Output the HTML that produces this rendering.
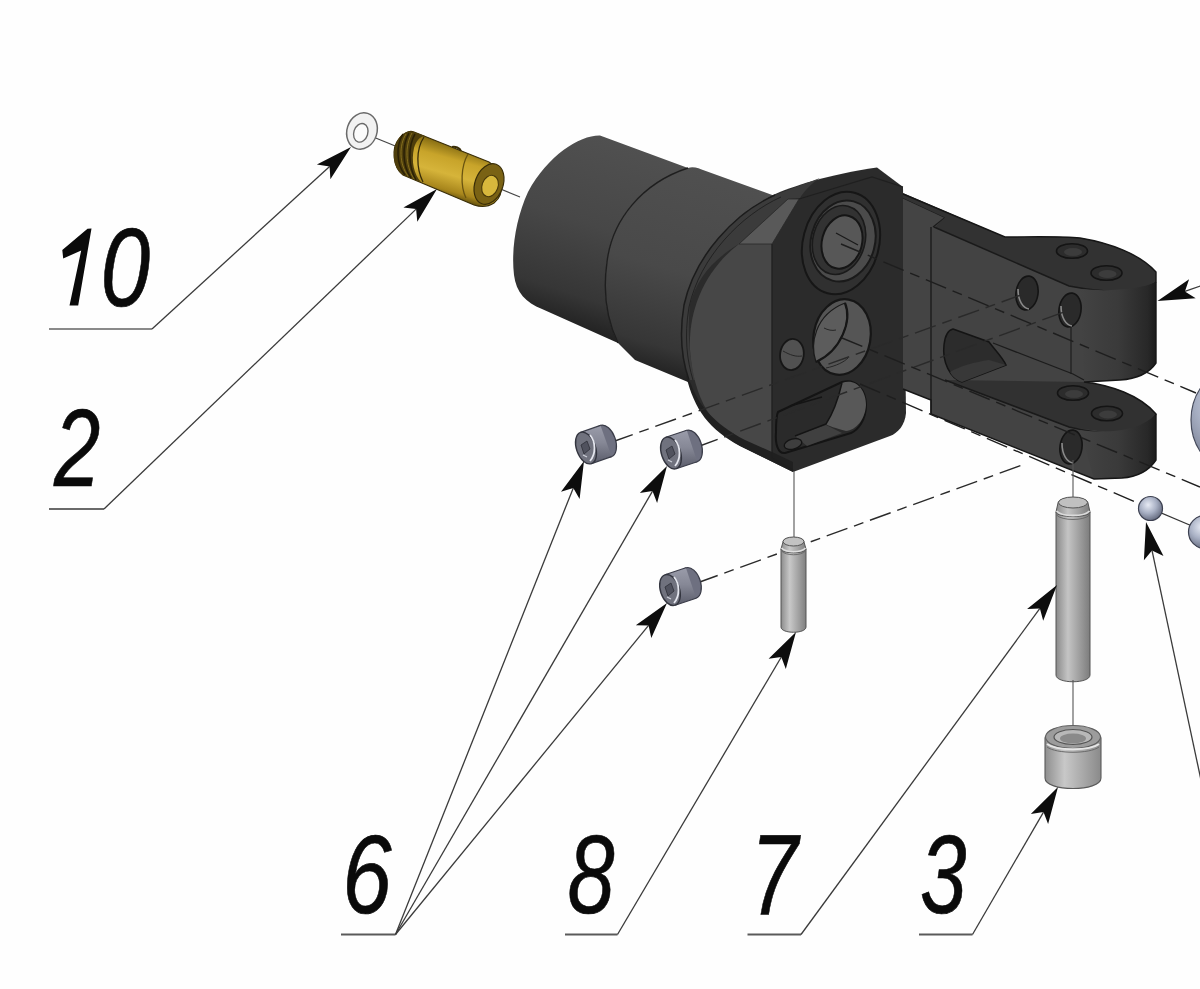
<!DOCTYPE html>
<html><head><meta charset="utf-8"><style>
html,body{margin:0;padding:0;background:#fff;overflow:hidden;}
svg{display:block;font-family:"Liberation Sans",sans-serif;}
</style></head><body>
<svg width="1200" height="989" viewBox="0 0 1200 989"><rect width="1200" height="989" fill="#fefefe"/>
<defs>
<linearGradient id="gCyl1" gradientUnits="userSpaceOnUse" x1="600" y1="136" x2="540" y2="320">
 <stop offset="0" stop-color="#505050"/><stop offset="0.45" stop-color="#474747"/><stop offset="0.82" stop-color="#363636"/><stop offset="1" stop-color="#202020"/></linearGradient>
<linearGradient id="gCyl2" gradientUnits="userSpaceOnUse" x1="720" y1="170" x2="660" y2="380">
 <stop offset="0" stop-color="#505050"/><stop offset="0.5" stop-color="#494949"/><stop offset="0.85" stop-color="#363636"/><stop offset="1" stop-color="#1e1e1e"/></linearGradient>
<linearGradient id="gBrass" gradientUnits="userSpaceOnUse" x1="432" y1="140" x2="418" y2="190">
 <stop offset="0" stop-color="#8a7014"/><stop offset="0.25" stop-color="#c8a42a"/><stop offset="0.55" stop-color="#d6b43a"/><stop offset="0.85" stop-color="#a8861c"/><stop offset="1" stop-color="#5e4c0c"/></linearGradient>
<linearGradient id="gLobe" gradientUnits="userSpaceOnUse" x1="1080" y1="0" x2="1157" y2="0">
 <stop offset="0" stop-color="#434343"/><stop offset="0.5" stop-color="#3a3a3a"/><stop offset="0.88" stop-color="#282828"/><stop offset="1" stop-color="#1a1a1a"/></linearGradient>
<linearGradient id="gPin" gradientUnits="userSpaceOnUse" x1="0" y1="0" x2="1" y2="0" gradientTransform="">
 <stop offset="0" stop-color="#8a8a8a"/><stop offset="0.4" stop-color="#c4c4c4"/><stop offset="1" stop-color="#7a7a7a"/></linearGradient>
<linearGradient id="gPin8" gradientUnits="userSpaceOnUse" x1="781" y1="0" x2="806" y2="0">
 <stop offset="0" stop-color="#8c8c8c"/><stop offset="0.35" stop-color="#c8c8c8"/><stop offset="1" stop-color="#808080"/></linearGradient>
<linearGradient id="gPin7" gradientUnits="userSpaceOnUse" x1="1056" y1="0" x2="1090" y2="0">
 <stop offset="0" stop-color="#8a8a8a"/><stop offset="0.35" stop-color="#c4c4c4"/><stop offset="1" stop-color="#7c7c7c"/></linearGradient>
<linearGradient id="gBush3" gradientUnits="userSpaceOnUse" x1="1045" y1="0" x2="1101" y2="0">
 <stop offset="0" stop-color="#8e8e8e"/><stop offset="0.35" stop-color="#c8c8c8"/><stop offset="1" stop-color="#8a8a8a"/></linearGradient>
<radialGradient id="gBall" cx="0.4" cy="0.35" r="0.7">
 <stop offset="0" stop-color="#e6eaf4"/><stop offset="0.5" stop-color="#a8b0c4"/><stop offset="1" stop-color="#5e6478"/></radialGradient>
<linearGradient id="gScrew" gradientUnits="objectBoundingBox" x1="0" y1="0" x2="0" y2="1">
 <stop offset="0" stop-color="#9a9caa"/><stop offset="0.45" stop-color="#868896"/><stop offset="1" stop-color="#5a5c6a"/></linearGradient>
</defs>
<line x1="361" y1="132" x2="520" y2="197" stroke="#444" stroke-width="1.1"/>
<ellipse cx="362" cy="131" rx="15" ry="18.5" transform="rotate(18 362 131)" fill="#f2f2f2" stroke="#6a6a6a" stroke-width="1.5"/>
<ellipse cx="361" cy="132.5" rx="7" ry="9.5" transform="rotate(18 360 132)" fill="#fbfbfb" stroke="#6a6a6a" stroke-width="1.4"/>
<path d="M414,132 L489,162 C503,170 506,194 494,203 C488,207 480,207 474,205 L403,175 C393,168 391,148 399,139 C404,133 409,130 414,132 Z" fill="url(#gBrass)" stroke="#3a2e08" stroke-width="1.2"/>
<path d="M414,132 C406,130 398,135 395,147 C392,159 395,169 403,175 L421,182 C414,175 411,161 414,148 C416,141 420,136 425,136 Z" fill="#4e3e0c"/>
<path d="M403,134 C396,145 396,164 405,175 M409,133 C402,145 402,165 411,178 M415,134 C408,146 408,166 416,180" fill="none" stroke="#2a2006" stroke-width="1.5"/>
<path d="M406,134 C399,145 399,164 408,176 M412,133 C405,145 405,165 414,179" fill="none" stroke="#8a7420" stroke-width="0.9"/>
<path d="M424,137 C416,149 416,168 423,182" fill="none" stroke="#3a2e08" stroke-width="1.3"/>
<path d="M468,154 C461,166 460,186 466,198" fill="none" stroke="#6a5410" stroke-width="1.3"/>
<ellipse cx="489" cy="184" rx="14" ry="21" transform="rotate(20 489 184)" fill="#7a6214" stroke="#3a2e08" stroke-width="1.2"/>
<ellipse cx="490" cy="186" rx="8" ry="11" transform="rotate(20 490 186)" fill="#d8b83c" stroke="#4a3a0a" stroke-width="1.1"/>
<path d="M452,147 C455,146 460,148 461,151" stroke="#3a2e08" stroke-width="2" fill="none"/>
<path d="M600,135.5 C580,135 548,155 528,192 C516,218 511,250 514,275 C516,292 526,303 542,309 L618,343 C606,318 603,290 607,262 C612,220 642,183 688,168 Z" fill="url(#gCyl1)"/>
<path d="M688,168 C694,166 700,169 703,170 L775,196 L700,385 L688,382 L635,360 L618,343 C604,315 603,285 607,262 C612,220 642,183 688,168 Z" fill="url(#gCyl2)"/>
<path d="M688,168 C642,183 612,220 607,262 C603,290 606,318 618,343" fill="none" stroke="#1e1e1e" stroke-width="1.4"/>
<path d="M773,195 C790,187 830,174 877,167.5 L903,187 L906,413 C905,425 898,433 890,436 L793,472 L740,446 C705,425 688,395 682,350 C678,300 700,250 745,212 Z" fill="#2b2b2b"/>
<path d="M775,195 C735,213 695,255 684,305 C679,335 682,360 689,380 L695,380 C690,360 687,335 690,305 C696,280 712,260 739,244 L788,199 L800,198 C805,190 812,183 820,178 Z" fill="#3b3b3b"/>
<path d="M775,195 C735,213 695,255 684,305 C679,335 682,360 689,380" fill="none" stroke="#1c1c1c" stroke-width="1.5"/>
<path d="M781,197 C741,215 700,257 689,307 C684,337 687,360 693,380" fill="none" stroke="#222" stroke-width="1"/>
<path d="M739,244 L772,244 L772,458 L745,446 C712,428 694,400 690,350 C688,310 705,270 739,244 Z" fill="#474747"/>
<path d="M739,244 L772,244 L799,199 L788,199 Z" fill="#595959" stroke="#2a2a2a" stroke-width="0.8"/>
<path d="M691,384 C698,404 714,424 745,440 L772,452 L793,462 L793,472 L740,446 C710,430 694,410 686,375 Z" fill="#202020"/>
<path d="M772,244 L772,458 L793,470" fill="none" stroke="#1f1f1f" stroke-width="1.3"/>
<path d="M799,199 L872,177 L903,187" fill="none" stroke="#1f1f1f" stroke-width="1.2"/>
<ellipse cx="841" cy="243" rx="38" ry="52" transform="rotate(15 841 243)" fill="#303030" stroke="#161616" stroke-width="2"/>
<ellipse cx="843" cy="241" rx="32" ry="41" transform="rotate(15 843 241)" fill="#4b4b4b" stroke="#1a1a1a" stroke-width="2"/>
<ellipse cx="839" cy="240" rx="26" ry="35" transform="rotate(15 839 240)" fill="#323232" stroke="#1a1a1a" stroke-width="1.6"/>
<ellipse cx="842" cy="242" rx="20" ry="27" transform="rotate(15 842 242)" fill="#575757" stroke="#151515" stroke-width="2"/>
<path d="M836,233 L858,245" stroke="#1a1a1a" stroke-width="1.2"/>
<ellipse cx="842" cy="337" rx="28.5" ry="38" transform="rotate(10 842 337)" fill="#555555" stroke="#161616" stroke-width="2.2"/>
<path d="M845,303 C852,320 842,350 816,362 C810,345 814,315 845,303 Z" fill="#5c5c5c" stroke="#1a1a1a" stroke-width="1.2"/>
<path d="M845,303 C852,320 842,350 816,362" fill="none" stroke="#161616" stroke-width="2.2"/>
<path d="M824,328 C828,330 832,331 836,330 M826,368 C836,366 844,362 848,358" fill="none" stroke="#262626" stroke-width="1"/>
<ellipse cx="792" cy="354.5" rx="11.8" ry="15.6" transform="rotate(8 792 354)" fill="#515151" stroke="#161616" stroke-width="1.8"/>
<path d="M783,351 C790,355 796,357 802,356" fill="none" stroke="#262626" stroke-width="1"/>
<path d="M778,412 L842,382 C856,378 866,390 866,405 C866,420 858,430 851,433 L785,453 C778,454 775,444 776,432 C776,423 776,416 778,412 Z" fill="#2a2a2a" stroke="#141414" stroke-width="2"/>
<path d="M842,383 C856,378 866,390 866,405 C865,420 856,430 846,431 C836,428 828,426 826,424 C832,415 838,400 842,383 Z" fill="#585858"/>
<path d="M795,436 L826,425 L842,433 L807,446 Z" fill="#404040"/>
<path d="M842,383 C838,400 832,415 826,424 L795,436" fill="none" stroke="#141414" stroke-width="1.4"/>
<ellipse cx="793" cy="444" rx="9" ry="5" transform="rotate(-15 793 444)" fill="#3e3e3e" stroke="#141414" stroke-width="1.3"/>
<path d="M790,406 L822,397" stroke="#141414" stroke-width="1.3"/>
<path d="M903,194 L1005,237 C1030,237 1060,236 1080,238 C1110,243 1140,254 1156,272 L1156,363 C1148,375 1134,379 1120,380 L1084,382 C1110,385 1140,395 1156,414 L1156,460 C1148,472 1136,477 1122,478 L1094,479 L931,414 L931,400 L903,389 Z" fill="#434343"/>
<path d="M903,198 L945,217.5 L933,227 L931,227 L931,400 L903,389 Z" fill="#444444"/>
<line x1="931" y1="227" x2="931" y2="414" stroke="#1c1c1c" stroke-width="1.4"/>
<path d="M903,198 L945,217.5 L933,227" fill="none" stroke="#1c1c1c" stroke-width="1.3"/>
<path d="M903,193 L1005,237 C1030,237 1060,236 1080,238 C1110,243 1140,254 1156,272 L1156,282 C1152,286 1142,289 1126,291 C1110,292 1090,290 1069,286 L935,227 L945,217.5 L903,198 Z" fill="#323232"/>
<path d="M934,227 L1069,286 C1090,290 1110,292 1126,291 C1142,289 1152,286 1156,282" fill="none" stroke="#1a1a1a" stroke-width="1.5"/>
<path d="M1080,289 C1110,292 1142,289 1156,282 L1156,363 C1148,375 1134,379 1120,380 L1084,380 Z" fill="url(#gLobe)"/>
<path d="M945,380 L1084,382 C1110,385 1140,395 1156,414 C1150,424 1135,434 1120,434 L1069,427 Z" fill="#313131"/>
<path d="M945,380 L1069,427 C1090,432 1110,434 1124,433 C1140,431 1152,424 1156,414" fill="none" stroke="#1a1a1a" stroke-width="1.5"/>
<path d="M1080,430 C1110,434 1140,431 1156,414 L1156,460 C1148,472 1136,477 1122,478 L1094,479 Z" fill="url(#gLobe)"/>
<path d="M993,343 L1073,374 L1084,380" fill="none" stroke="#1c1c1c" stroke-width="1.3"/>
<path d="M903,194 L1005,237 C1030,237 1060,236 1080,238 C1110,243 1140,254 1156,272 L1156,363 C1148,375 1134,379 1120,380 L1084,382 C1110,385 1140,395 1156,414 L1156,460 C1148,472 1136,477 1122,478 L1094,479 L931,414 L931,400 L903,389" fill="none" stroke="#161616" stroke-width="1.4"/>
<path d="M953,329 L989,342 C995,350 1003,358 1006,365 L962,382 C950,378 942,362 944,345 C945,335 949,330 953,329 Z" fill="#2c2c2c" stroke="#141414" stroke-width="1.5"/>
<path d="M950,372 C960,366 975,362 989,360 L1006,365 L962,382 C956,380 952,376 950,372 Z" fill="#383838"/>
<ellipse cx="1072" cy="251" rx="15.5" ry="7.3" fill="#2c2c2c" stroke="#141414" stroke-width="1.6"/>
<ellipse cx="1073" cy="252" rx="9" ry="4" fill="#3c3c3c"/>
<ellipse cx="1106.5" cy="273" rx="15.5" ry="7.3" fill="#2c2c2c" stroke="#141414" stroke-width="1.6"/>
<ellipse cx="1107.5" cy="274" rx="9" ry="4" fill="#3c3c3c"/>
<ellipse cx="1073" cy="393" rx="15.5" ry="7.3" fill="#2c2c2c" stroke="#141414" stroke-width="1.6"/>
<ellipse cx="1074" cy="394" rx="9" ry="4" fill="#3c3c3c"/>
<ellipse cx="1107" cy="413.5" rx="15.5" ry="7.3" fill="#2c2c2c" stroke="#141414" stroke-width="1.6"/>
<ellipse cx="1108" cy="414.5" rx="9" ry="4" fill="#3c3c3c"/>
<ellipse cx="1027" cy="293" rx="11" ry="17" transform="rotate(8 1027 293)" fill="#2a2a2a" stroke="#141414" stroke-width="1.6"/>
<path d="M1018,289 C1018,301 1023,308 1029,309" fill="none" stroke="#8a8a8a" stroke-width="1.6"/>
<ellipse cx="1070" cy="310" rx="11" ry="17" transform="rotate(8 1070 310)" fill="#2a2a2a" stroke="#141414" stroke-width="1.6"/>
<path d="M1061,306 C1061,318 1066,325 1072,326" fill="none" stroke="#8a8a8a" stroke-width="1.6"/>
<ellipse cx="1071" cy="447" rx="11" ry="17" transform="rotate(8 1071 447)" fill="#2a2a2a" stroke="#141414" stroke-width="1.6"/>
<path d="M1062,443 C1062,455 1067,462 1073,463" fill="none" stroke="#8a8a8a" stroke-width="1.6"/>
<line x1="1071" y1="327" x2="1071" y2="374" stroke="#1a1a1a" stroke-width="1.1"/>
<line x1="612" y1="442" x2="1021" y2="295" stroke="#2a2a2a" stroke-width="1.4" stroke-dasharray="22,7,10,7"/>
<line x1="697" y1="447" x2="1064" y2="312" stroke="#2a2a2a" stroke-width="1.4" stroke-dasharray="22,7,10,7"/>
<line x1="697" y1="583" x2="1025" y2="464" stroke="#2a2a2a" stroke-width="1.4" stroke-dasharray="22,7,10,7"/>
<line x1="841" y1="244" x2="1196" y2="393" stroke="#1e1e1e" stroke-width="1.4" stroke-dasharray="22,7,10,7"/>
<line x1="842" y1="338" x2="1200" y2="487" stroke="#1e1e1e" stroke-width="1.4" stroke-dasharray="22,7,10,7"/>
<line x1="860" y1="384" x2="1140" y2="504" stroke="#1e1e1e" stroke-width="1.4" stroke-dasharray="22,7,10,7"/>
<line x1="1140" y1="504" x2="1192" y2="526" stroke="#333" stroke-width="1.3"/>
<circle cx="1249" cy="420" r="58" fill="url(#gBall)" stroke="#44495a" stroke-width="1.2"/>
<circle cx="1150.5" cy="508.5" r="12" fill="url(#gBall)" stroke="#3c4050" stroke-width="1.2"/>
<circle cx="1205" cy="532" r="16.5" fill="url(#gBall)" stroke="#3c4050" stroke-width="1.2"/>
<ellipse cx="606" cy="441" rx="9.5" ry="16.5" transform="rotate(-19.3 606 441)" fill="#6e7080" stroke="#3a3c48" stroke-width="1.2"/><path d="M580.5,432.4 L600.5,425.4 L611.5,456.6 L591.5,463.6 Z" fill="url(#gScrew)"/><path d="M580.5,432.4 L600.5,425.4 M611.5,456.6 L591.5,463.6" stroke="#3a3c48" stroke-width="1.2"/><ellipse cx="586" cy="448" rx="9.5" ry="16.5" transform="rotate(-19.3 586 448)" fill="#70727e" stroke="#33353f" stroke-width="1.4"/><path d="M590,435 C596,442 596,454 590,461" fill="none" stroke="#e4e6ee" stroke-width="1.8"/><path d="M581,445 L587,441 L590,449 L584,454 Z" fill="#50525e" stroke="#2e3038" stroke-width="0.8"/><path d="M583,455 L587,457" stroke="#d0d2dc" stroke-width="1.2"/>
<ellipse cx="692" cy="446" rx="9.5" ry="16.5" transform="rotate(-18.4 692 446)" fill="#6e7080" stroke="#3a3c48" stroke-width="1.2"/><path d="M665.8,437.3 L686.8,430.3 L697.2,461.7 L676.2,468.7 Z" fill="url(#gScrew)"/><path d="M665.8,437.3 L686.8,430.3 M697.2,461.7 L676.2,468.7" stroke="#3a3c48" stroke-width="1.2"/><ellipse cx="671" cy="453" rx="9.5" ry="16.5" transform="rotate(-18.4 671 453)" fill="#70727e" stroke="#33353f" stroke-width="1.4"/><path d="M675,440 C681,447 681,459 675,466" fill="none" stroke="#e4e6ee" stroke-width="1.8"/><path d="M666,450 L672,446 L675,454 L669,459 Z" fill="#50525e" stroke="#2e3038" stroke-width="0.8"/><path d="M668,460 L672,462" stroke="#d0d2dc" stroke-width="1.2"/>
<ellipse cx="691" cy="583" rx="9.5" ry="16" transform="rotate(-18.4 691 583)" fill="#6e7080" stroke="#3a3c48" stroke-width="1.2"/><path d="M664.9,574.8 L685.9,567.8 L696.1,598.2 L675.1,605.2 Z" fill="url(#gScrew)"/><path d="M664.9,574.8 L685.9,567.8 M696.1,598.2 L675.1,605.2" stroke="#3a3c48" stroke-width="1.2"/><ellipse cx="670" cy="590" rx="9.5" ry="16" transform="rotate(-18.4 670 590)" fill="#70727e" stroke="#33353f" stroke-width="1.4"/><path d="M674,577 C680,584 680,596 674,603" fill="none" stroke="#e4e6ee" stroke-width="1.8"/><path d="M665,587 L671,583 L674,591 L668,596 Z" fill="#50525e" stroke="#2e3038" stroke-width="0.8"/><path d="M667,597 L671,599" stroke="#d0d2dc" stroke-width="1.2"/>
<line x1="794" y1="471" x2="794" y2="538" stroke="#555" stroke-width="1.1"/>
<path d="M781,549 L806,549 L806,627 C806,634 781,634 781,627 Z" fill="url(#gPin8)" stroke="#555" stroke-width="1"/>
<path d="M783,542 C783,536 804,536 804,542 L806,549 C806,554 781,554 781,549 Z" fill="url(#gPin8)" stroke="#555" stroke-width="1"/>
<ellipse cx="793.5" cy="541.5" rx="10.5" ry="4.5" fill="#c2c2c2" stroke="#555" stroke-width="1"/>
<path d="M781.5,548 C786,553 801,553 805.5,548" fill="none" stroke="#e0e0e0" stroke-width="1.6"/>
<path d="M781.5,551 C786,556 801,556 805.5,551" fill="none" stroke="#666" stroke-width="0.9"/>
<line x1="1073" y1="460" x2="1073" y2="500" stroke="#555" stroke-width="1.1"/>
<path d="M1056,512 L1090,512 L1090,675 C1090,684 1056,684 1056,675 Z" fill="url(#gPin7)" stroke="#555" stroke-width="1"/>
<path d="M1058,503 C1058,496 1088,496 1088,503 L1090,512 C1090,518 1056,518 1056,512 Z" fill="url(#gPin7)" stroke="#555" stroke-width="1"/>
<ellipse cx="1073" cy="502.5" rx="14.5" ry="5.5" fill="#c0c0c0" stroke="#555" stroke-width="1"/>
<path d="M1056.5,511 C1062,517 1084,517 1089.5,511" fill="none" stroke="#dcdcdc" stroke-width="1.8"/>
<path d="M1056.5,515 C1062,521 1084,521 1089.5,515" fill="none" stroke="#666" stroke-width="0.9"/>
<line x1="1073" y1="680" x2="1073" y2="730" stroke="#555" stroke-width="1.1"/>
<path d="M1045,738 C1045,728 1101,728 1101,738 L1101,778 C1101,792 1045,792 1045,778 Z" fill="url(#gBush3)" stroke="#5a5a5a" stroke-width="1.1"/>
<ellipse cx="1073" cy="737" rx="27.5" ry="11.5" fill="#9c9c9c" stroke="#606060" stroke-width="1.1"/>
<ellipse cx="1073" cy="737" rx="19" ry="7.5" fill="#b8b8b8" stroke="#555" stroke-width="1.2"/>
<ellipse cx="1073" cy="738.5" rx="13" ry="5" fill="#8a8a8a"/>
<path d="M1047,744 C1056,751 1090,751 1099,744" fill="none" stroke="#e6e6e6" stroke-width="2"/>
<path d="M1047,747 C1056,754 1090,754 1099,747" fill="none" stroke="#6a6a6a" stroke-width="1"/>
<path d="M91.5,228.5 L78.2,305.5 L69.5,305.5 L81.2,250.5 L63.2,258.5 L62.3,250 L87.5,228.8 Z" fill="#0a0a0a"/>
<text transform="matrix(0.8922,0,0,1.1127,100.43,306.39)" font-size="100" font-style="italic" fill="#0a0a0a" stroke="#0a0a0a" stroke-width="0.6">0</text>
<line x1="49.0" y1="329.0" x2="152.0" y2="329.0" stroke="#8a8a8a" stroke-width="2.2" />
<line x1="152.0" y1="329.0" x2="329.6" y2="166.6" stroke="#3a3a3a" stroke-width="1.3" />
<path d="M351.0,147.0 L330.4,179.3 L329.6,166.6 L316.9,164.6 Z" fill="#0d0d0d"/>
<text transform="matrix(0.8333,0,0,1.1000,54.00,486.00)" font-size="100" font-style="italic" fill="#0a0a0a" stroke="#0a0a0a" stroke-width="0.6">2</text>
<line x1="49.0" y1="509.0" x2="104.0" y2="509.0" stroke="#6a6a6a" stroke-width="2" />
<line x1="104.0" y1="509.0" x2="416.1" y2="209.1" stroke="#3a3a3a" stroke-width="1.3" />
<path d="M437.0,189.0 L417.3,221.8 L416.1,209.1 L403.4,207.4 Z" fill="#0d0d0d"/>
<text transform="matrix(0.8878,0,0,1.1127,342.17,912.89)" font-size="100" font-style="italic" fill="#0a0a0a" stroke="#0a0a0a" stroke-width="0.6">6</text>
<line x1="341.0" y1="934.5" x2="395.5" y2="934.5" stroke="#5a5a5a" stroke-width="2" />
<line x1="395.5" y1="934.5" x2="573.3" y2="487.9" stroke="#3a3a3a" stroke-width="1.3" />
<path d="M584.0,461.0 L579.6,499.1 L573.3,487.9 L561.0,491.7 Z" fill="#0d0d0d"/>
<line x1="395.5" y1="934.5" x2="652.5" y2="491.1" stroke="#3a3a3a" stroke-width="1.3" />
<path d="M667.0,466.0 L657.1,503.0 L652.5,491.1 L639.8,493.0 Z" fill="#0d0d0d"/>
<line x1="395.5" y1="934.5" x2="648.6" y2="625.4" stroke="#3a3a3a" stroke-width="1.3" />
<path d="M667.0,603.0 L651.3,638.0 L648.6,625.4 L635.8,625.3 Z" fill="#0d0d0d"/>
<text transform="matrix(0.8462,0,0,1.1056,567.46,912.89)" font-size="100" font-style="italic" fill="#0a0a0a" stroke="#0a0a0a" stroke-width="0.6">8</text>
<line x1="565.0" y1="934.5" x2="617.5" y2="934.5" stroke="#5a5a5a" stroke-width="2" />
<line x1="617.5" y1="934.5" x2="781.3" y2="657.0" stroke="#3a3a3a" stroke-width="1.3" />
<path d="M796.0,632.0 L785.8,668.9 L781.3,657.0 L768.6,658.8 Z" fill="#0d0d0d"/>
<text transform="matrix(0.8542,0,0,1.1471,750.46,915.15)" font-size="100" font-style="italic" fill="#0a0a0a" stroke="#0a0a0a" stroke-width="0.6">7</text>
<line x1="747.5" y1="934.5" x2="801.0" y2="934.5" stroke="#5a5a5a" stroke-width="2" />
<line x1="801.0" y1="934.5" x2="1039.9" y2="608.4" stroke="#3a3a3a" stroke-width="1.3" />
<path d="M1057.0,585.0 L1043.2,620.8 L1039.9,608.4 L1027.1,608.9 Z" fill="#0d0d0d"/>
<text transform="matrix(0.8365,0,0,1.1056,919.99,912.89)" font-size="100" font-style="italic" fill="#0a0a0a" stroke="#0a0a0a" stroke-width="0.6">3</text>
<line x1="919.0" y1="934.5" x2="972.5" y2="934.5" stroke="#5a5a5a" stroke-width="2" />
<line x1="972.5" y1="934.5" x2="1043.5" y2="812.1" stroke="#3a3a3a" stroke-width="1.3" />
<path d="M1058.0,787.0 L1048.1,824.0 L1043.5,812.1 L1030.8,814.0 Z" fill="#0d0d0d"/>
<line x1="1211.0" y1="827.0" x2="1152.0" y2="550.4" stroke="#3a3a3a" stroke-width="1.3" />
<path d="M1146.0,522.0 L1163.5,556.1 L1152.0,550.4 L1143.9,560.3 Z" fill="#0d0d0d"/>
<line x1="1240.0" y1="272.0" x2="1184.9" y2="291.4" stroke="#3a3a3a" stroke-width="1.3" />
<path d="M1157.5,301.0 L1189.1,279.3 L1184.9,291.4 L1195.7,298.2 Z" fill="#0d0d0d"/></svg>
</body></html>
